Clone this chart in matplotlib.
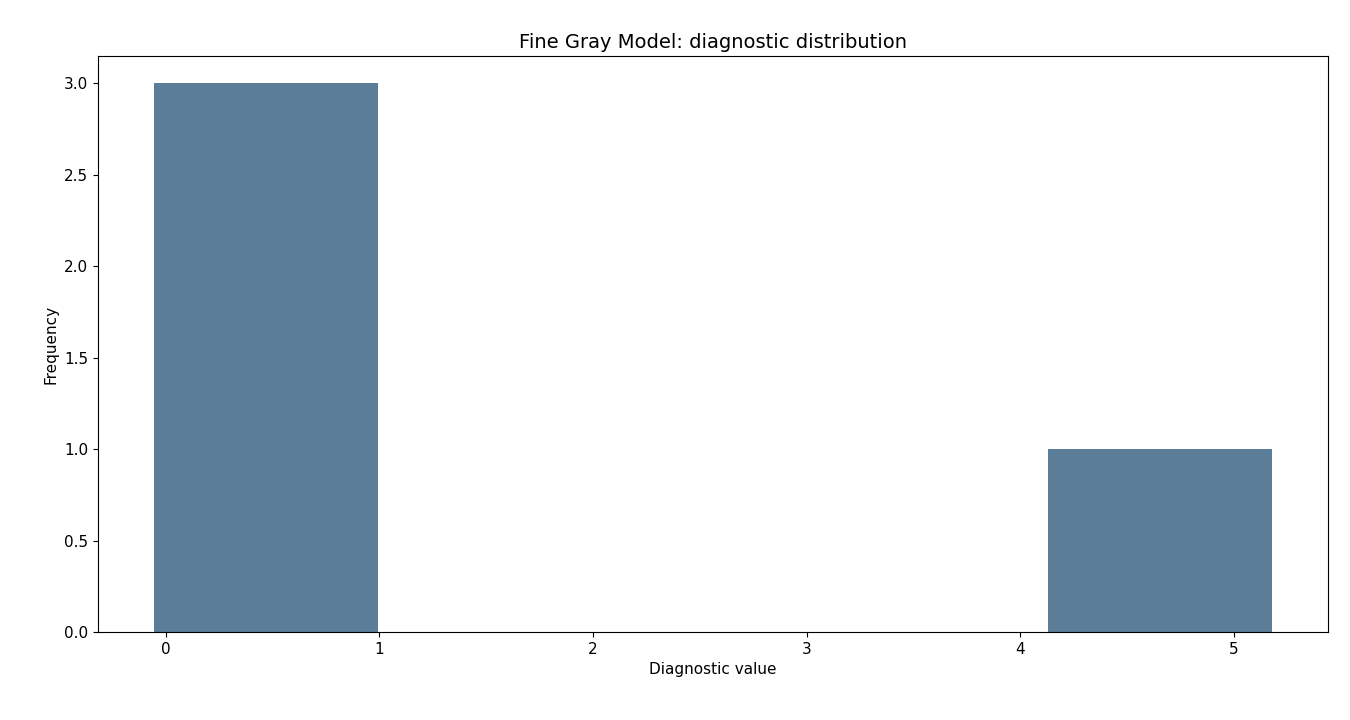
import matplotlib
matplotlib.use("Agg")
import matplotlib.pyplot as plt
import numpy as np

values = [-0.056, 0.0, 0.02, 5.18]
n_bins = 5

fig = plt.figure(figsize=(13.5, 7.2), dpi=100)
ax = fig.add_axes([98/1350, 1-632/720, 1230/1350, 576/720])
ax.hist(values, bins=n_bins, color="#5b7d98")
ax.set_title("Fine Gray Model: diagnostic distribution", fontsize=14)
ax.set_xlabel("Diagnostic value", fontsize=11)
ax.set_ylabel("Frequency", fontsize=11)
ax.tick_params(labelsize=11)
fig.savefig("out.png")
